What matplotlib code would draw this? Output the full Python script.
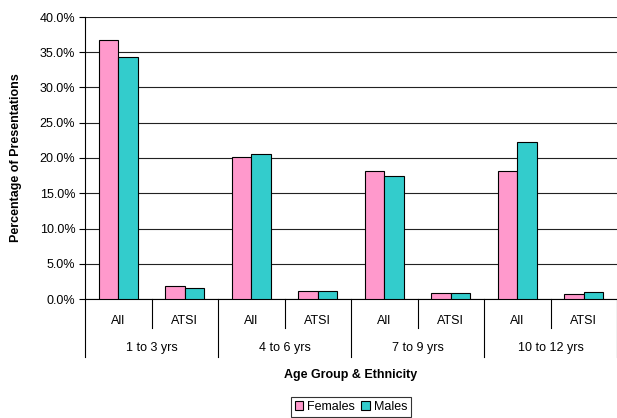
import numpy as np
import matplotlib
matplotlib.use("Agg")
import matplotlib.pyplot as plt
from matplotlib.ticker import PercentFormatter

plt.rcParams['font.family'] = ['Liberation Sans', 'DejaVu Sans']

age_groups = ['1 to 3 yrs', '4 to 6 yrs', '7 to 9 yrs', '10 to 12 yrs']
ethnicity = ['All', 'ATSI']
females = [36.7, 1.8, 20.1, 1.1, 18.2, 0.8, 18.2, 0.7]
males = [34.3, 1.5, 20.5, 1.1, 17.5, 0.8, 22.3, 0.95]

W, H = 617, 418
fig = plt.figure(figsize=(W / 100, H / 100), dpi=100)
ax = fig.add_axes([85 / W, (H - 299) / H, 532 / W, 282 / H])

x = np.arange(len(females))
bw = 0.29
ax.bar(x - bw / 2, females, bw, color='#FF99CC', edgecolor='black', linewidth=0.8,
       label='Females', zorder=3)
ax.bar(x + bw / 2, males, bw, color='#33CCCC', edgecolor='black', linewidth=0.8,
       label='Males', zorder=3)

ax.set_xlim(-0.5, len(x) - 0.5)
ax.set_ylim(0, 40)
ax.set_yticks(np.arange(0, 40.1, 5))
ax.yaxis.set_major_formatter(PercentFormatter(decimals=1))
ax.grid(axis='y', color='#222222', linewidth=0.8, zorder=0)
ax.tick_params(axis='y', direction='out', length=4, width=0.8, labelsize=9, pad=3)
ax.tick_params(axis='x', bottom=False, labelbottom=False)
for s in ['top', 'right']:
    ax.spines[s].set_visible(False)
ax.spines['left'].set_linewidth(0.8)
ax.spines['bottom'].set_linewidth(0.8)

ax.set_ylabel('Percentage of Presentations', fontsize=9, fontweight='bold')
ax.yaxis.set_label_coords(-0.118, 0.5)

# two-level category axis
tr = ax.get_xaxis_transform()
for i in range(len(x) + 1):
    xb = i - 0.5
    y_end = -0.206 if i % 2 == 0 else -0.103
    ax.plot([xb, xb], [0, y_end], color='black', lw=0.8, transform=tr, clip_on=False)
for i in range(len(x)):
    ax.text(i, -0.078, ethnicity[i % 2], transform=tr, ha='center', va='center', fontsize=9)
for j, g in enumerate(age_groups):
    ax.text(2 * j + 0.5, -0.173, g, transform=tr, ha='center', va='center', fontsize=9)

fig.text(351 / W, 1 - 375 / H, 'Age Group & Ethnicity', ha='center', va='center',
         fontsize=9, fontweight='bold')

leg = ax.legend(loc='center', bbox_to_anchor=(351 / W, 1 - 407 / H),
                bbox_transform=fig.transFigure, ncol=2, fontsize=9, frameon=True,
                fancybox=False, edgecolor='black', handlelength=0.7, handleheight=0.7,
                handletextpad=0.3, columnspacing=0.5, borderpad=0.3, borderaxespad=0)
leg.get_frame().set_linewidth(0.8)

fig.savefig('out.png', dpi=100)
